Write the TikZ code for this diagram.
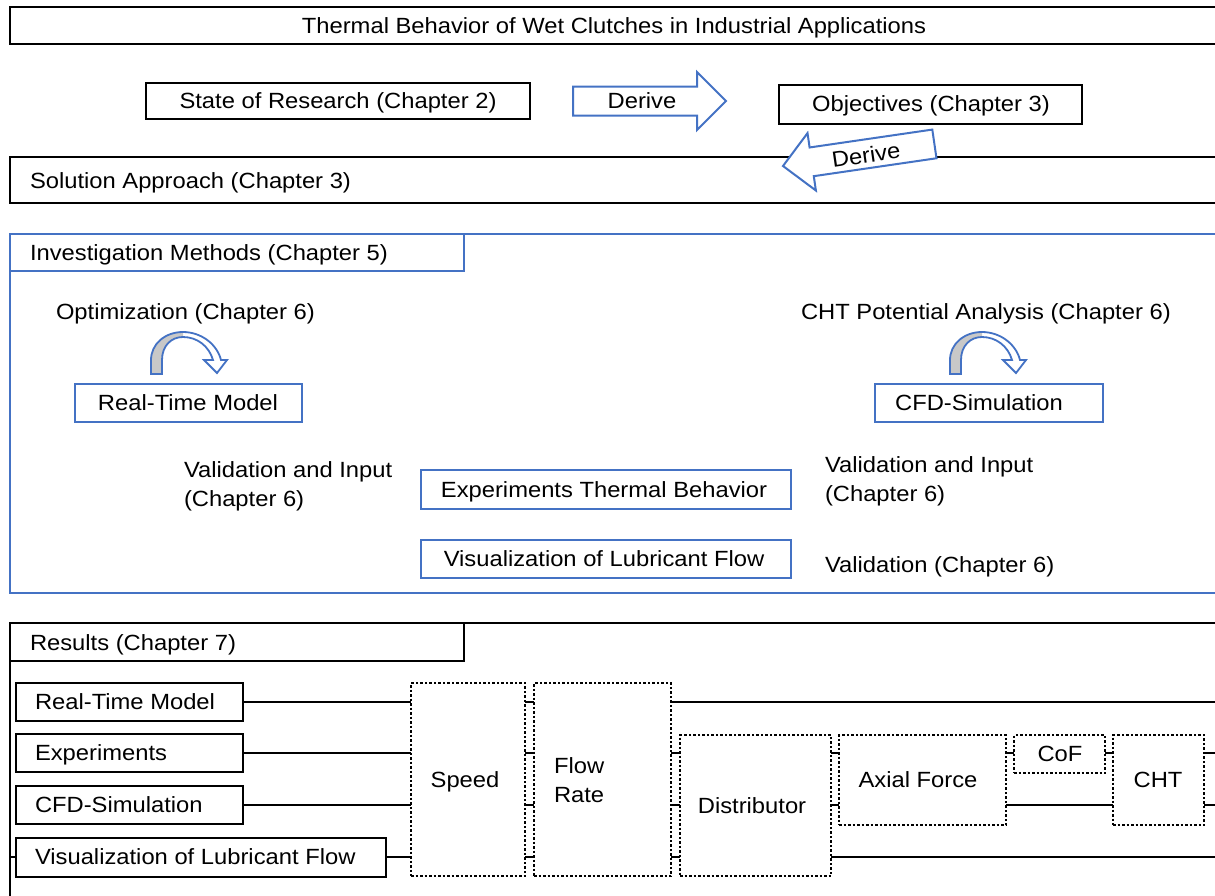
\documentclass[tikz,border=0pt]{standalone}
\usepackage{fontspec}
\setmainfont{Liberation Sans}[FakeStretch=1.08]
\usetikzlibrary{fit,shapes.arrows}
\definecolor{accent}{HTML}{4472C4}
\definecolor{bandgray}{HTML}{C8C8C8}
\tikzset{
  blk/.style={draw=black, line width=2.5pt, fill=white, inner sep=0pt, outer sep=0pt},
  blu/.style={draw=accent, line width=2.5pt, fill=white, inner sep=0pt, outer sep=0pt},
  dotbox/.style={draw=black, line width=2.5pt, dash pattern=on 2.5pt off 2pt, inner sep=0pt, outer sep=0pt},
  conn/.style={draw=black, line width=1.3pt},
  txt/.style={inner sep=0pt, outer sep=0pt, text height=15.75pt, text depth=0pt},
  arrowbox/.style={single arrow, draw=accent, fill=white, line width=2pt,
    inner sep=0pt, outer sep=0pt, minimum height=153pt, minimum width=56pt,
    single arrow head extend=14.5pt, text height=27pt, text depth=0pt, text width=0pt},
  turnarrow/.pic={
    % white band, grey inner face on the rising leg, blue outline
    \fill[white] (0,0) -- (0,-14) .. controls (0,-30) and (14,-42) .. (32,-42)
      .. controls (50,-42) and (66,-30) .. (70,-14) -- (76,-14) -- (66,-1) -- (53,-14) -- (62,-14)
      .. controls (58,-28) and (46,-37) .. (32,-37) .. controls (20,-37) and (11,-28) .. (11,-14)
      -- (11,0) -- cycle;
    \fill[bandgray] (0,0) -- (0,-14) .. controls (0,-30) and (14,-42) .. (32,-42)
      -- (32,-37) .. controls (20,-37) and (11,-28) .. (11,-14) -- (11,0) -- cycle;
    \draw[accent, line width=1.8pt, line join=miter] (0,0) -- (0,-14) .. controls (0,-30) and (14,-42) .. (32,-42)
      .. controls (50,-42) and (66,-30) .. (70,-14) -- (76,-14) -- (66,-1) -- (53,-14) -- (62,-14)
      .. controls (58,-28) and (46,-37) .. (32,-37) .. controls (20,-37) and (11,-28) .. (11,-14)
      -- (11,0) -- cycle;
  }
}
\begin{document}
\begin{tikzpicture}[x=1pt, y=-1pt, font=\fontsize{22}{29}\selectfont]
\path[use as bounding box, clip] (0,0) rectangle (1215,895);

% title and the derivation chain
\node[blk, fit={(10,7) (1232,44)}] (title) {};
\node[txt] (titleT) at (614,26) {Thermal Behavior of Wet Clutches in Industrial Applications};

\node[blk, fit={(146,83) (530,119)}] (sor) {};
\node[txt] (sorT) at (338,101) {State of Research (Chapter 2)};
\node[arrowbox, anchor=tip] (der1) at (726,101) {};
\node[txt] (der1T) at (642,101) {Derive};
\node[blk, fit={(779,85) (1082,124)}] (obj) {};
\node[txt] (objT) at (931,104) {Objectives (Chapter 3)};

\node[blk, fit={(10,157) (1232,203)}] (sol) {};
\node[txt, anchor=west] (solT) at (30,181) {Solution Approach (Chapter 3)};
\node[arrowbox, shape border rotate=180, rotate=8.3, anchor=tip] (der2) at (783,166) {};
\node[txt, rotate=8.3] (der2T) at (866,155) {Derive};

% investigation methods
\node[blu, fit={(10,234) (1232,593)}] (inv) {};
\node[blu, fit={(10,234) (464,271)}] (invH) {};
\node[txt, anchor=west] (invT) at (30,253) {Investigation Methods (Chapter 5)};

\node[txt, anchor=west] (optT) at (56,312) {Optimization (Chapter 6)};
\pic (optloop) at (151,374) {turnarrow};
\node[blu, fit={(75,384) (302,422)}] (rtm) {};
\node[txt] (rtmT) at (188,403) {Real-Time Model};

\node[txt, anchor=west] (chtT) at (801,312) {CHT Potential Analysis (Chapter 6)};
\pic (chtloop) at (950,374) {turnarrow};
\node[blu, fit={(875,384) (1103,422)}] (cfd) {};
\node[txt] (cfdT) at (979,403) {CFD-Simulation};

\node[txt, anchor=west] (valLa) at (184,470) {Validation and Input};
\node[txt, anchor=west] (valLb) at (184,499) {(Chapter 6)};
\node[txt, anchor=west] (valRa) at (825,465) {Validation and Input};
\node[txt, anchor=west] (valRb) at (825,494) {(Chapter 6)};

\node[blu, fit={(421,470) (791,509)}] (exp) {};
\node[txt] (expT) at (604,490) {Experiments Thermal Behavior};
\node[blu, fit={(421,540) (791,578)}] (vis) {};
\node[txt] (visT) at (604,559) {Visualization of Lubricant Flow};
\node[txt, anchor=west] (valV) at (825,565) {Validation (Chapter 6)};

% results
\node[blk, fit={(10,623) (1232,912)}] (res) {};
\node[blk, fit={(10,623) (464,661)}] (resH) {};
\node[txt, anchor=west] (resT) at (30,643) {Results (Chapter 7)};

\coordinate (r1) at (0,702);
\coordinate (r2) at (0,753);
\coordinate (r3) at (0,805);
\coordinate (r4) at (0,857);
\coordinate (edge) at (1216,0);
\coordinate (resL) at (10,857);

\node[blk, fit={(16,683) (243,721)}] (mRtm) {};
\node[txt, anchor=west] (mRtmT) at (35,702) {Real-Time Model};
\node[blk, fit={(16,734) (243,772)}] (mExp) {};
\node[txt, anchor=west] (mExpT) at (35,753) {Experiments};
\node[blk, fit={(16,786) (243,824)}] (mCfd) {};
\node[txt, anchor=west] (mCfdT) at (35,805) {CFD-Simulation};
\node[blk, fit={(16,838) (386,877)}] (mVis) {};
\node[txt, anchor=west] (mVisT) at (35,857) {Visualization of Lubricant Flow};

\node[dotbox, fit={(411,683) (525,876)}] (speed) {};
\node[txt] (speedT) at (465,780) {Speed};
\node[dotbox, fit={(534,683) (671,876)}] (flow) {};
\node[txt, anchor=west] (flowTa) at (554,766) {Flow};
\node[txt, anchor=west] (flowTb) at (554,795) {Rate};
\node[dotbox, fit={(680,735) (831,876)}] (dist) {};
\node[txt] (distT) at (752,806) {Distributor};
\node[dotbox, fit={(839,735) (1006,825)}] (axf) {};
\node[txt] (axfT) at (918,780) {Axial Force};
\node[dotbox, fit={(1014,735) (1105,773)}] (cof) {};
\node[txt] (cofT) at (1060,754) {CoF};
\node[dotbox, fit={(1113,735) (1204,825)}] (cht) {};
\node[txt] (chtBT) at (1158,780) {CHT};

% connections between the result blocks
\draw[conn] (mRtm.east |- r1) -- (speed.west |- r1);
\draw[conn] (mExp.east |- r2) -- (speed.west |- r2);
\draw[conn] (mCfd.east |- r3) -- (speed.west |- r3);
\draw[conn] (mVis.east |- r4) -- (speed.west |- r4);
\draw[conn] (resL) -- (mVis.west |- r4);
\foreach \r in {r1,r2,r3,r4}
  \draw[conn] (speed.east |- \r) -- (flow.west |- \r);
\foreach \r in {r2,r3,r4}
  \draw[conn] (flow.east |- \r) -- (dist.west |- \r);
\draw[conn] (flow.east |- r1) -- (edge |- r1);
\foreach \r in {r2,r3}
  \draw[conn] (dist.east |- \r) -- (axf.west |- \r);
\draw[conn] (dist.east |- r4) -- (edge |- r4);
\draw[conn] (axf.east |- r2) -- (cof.west |- r2);
\draw[conn] (axf.east |- r3) -- (cht.west |- r3);
\draw[conn] (cof.east |- r2) -- (cht.west |- r2);
\draw[conn] (cht.east |- r2) -- (edge |- r2);
\draw[conn] (cht.east |- r3) -- (edge |- r3);
\end{tikzpicture}
\end{document}
